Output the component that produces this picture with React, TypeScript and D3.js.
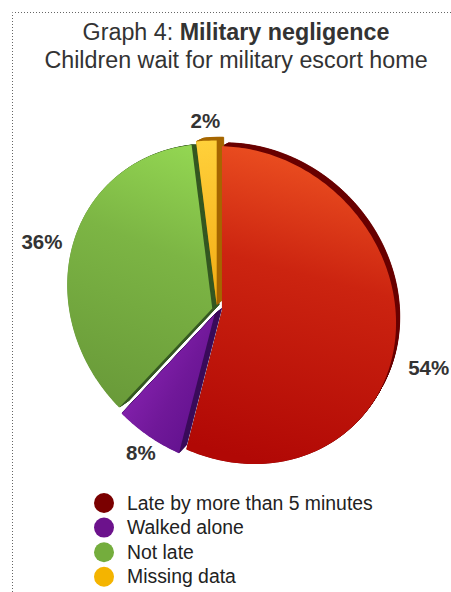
import React from 'react';
import * as d3 from 'd3';

// Survey answers, clockwise from twelve o'clock
const categories = ['Late by more than 5 minutes', 'Walked alone', 'Not late', 'Missing data'];
const shares = [54, 8, 36, 2];
const shareLabels = ['54%', '8%', '36%', '2%'];

const titleLead = 'Graph 4: ';
const titleBold = 'Military negligence';
const subtitle = 'Children wait for military escort home';

const WIDTH = 451;
const HEIGHT = 592;
const FONT = '"Liberation Sans", Arial, Helvetica, sans-serif';

// The pie is a tilted disc: its outline is a rotated ellipse and the
// slice apex sits off the ellipse centre (perspective).
const apex = { x: 217, y: 310 };
const rimCenter = { x: 231.5, y: 304.5 };
const rimA = 168;
const rimB = 150;
const rimTilt = (44 * Math.PI) / 180;

// how far each slice is pulled out, in px
const explode = [5, 5, 5, 5];
// depth of the extruded disc (towards upper right) and back-face shrink
const depth = [
  { x: 6.5, y: -6 },
  { x: 7, y: -6 },
  { x: 7, y: -4 },
  { x: 7, y: -6 },
];
const backScale = [0.984, 0.984, 0.975, 0.984];

const faceStops = [
  ['#ee5322', '#cc2410', '#b10805'],
  ['#8421ad', '#701899', '#5a0d88'],
  ['#93d652', '#7cb544', '#699a39'],
  ['#ffd23c', '#fbc22c', '#f1ab12'],
];
const sideColors = ['#690000', '#3a0b5a', '#355822', '#a66700'];
const legendColors = ['#7a0000', '#6c128c', '#74ad3d', '#f4b400'];

// label nudges from the rim point at each slice's mid angle
const labelNudge = [
  { x: 33, y: 35 },
  { x: -7, y: 17 },
  { x: -27, y: -20 },
  { x: -1, y: -20 },
];

function rimDistance(angle: number): number {
  const dx = Math.sin(angle);
  const dy = -Math.cos(angle);
  const ux = Math.cos(rimTilt);
  const uy = Math.sin(rimTilt);
  const vx = -uy;
  const vy = ux;
  const qx = apex.x - rimCenter.x;
  const qy = apex.y - rimCenter.y;
  const qu = qx * ux + qy * uy;
  const qv = qx * vx + qy * vy;
  const du = dx * ux + dy * uy;
  const dv = dx * vx + dy * vy;
  const A2 = rimA * rimA;
  const B2 = rimB * rimB;
  const a = (du * du) / A2 + (dv * dv) / B2;
  const b = 2 * ((qu * du) / A2 + (qv * dv) / B2);
  const c = (qu * qu) / A2 + (qv * qv) / B2 - 1;
  return (-b + Math.sqrt(b * b - 4 * a * c)) / (2 * a);
}

function rimPoint(angle: number): [number, number] {
  const t = rimDistance(angle);
  return [apex.x + t * Math.sin(angle), apex.y - t * Math.cos(angle)];
}

const pie = d3
  .pie<number>()
  .sort(null)
  .value((d) => d);

const outline = d3
  .line<[number, number]>()
  .x((d) => d[0])
  .y((d) => d[1])
  .curve(d3.curveLinearClosed);

export default function App() {
  const arcs = pie(shares);

  const slices = arcs.map((a, i) => {
    const steps = Math.max(4, Math.ceil(((a.endAngle - a.startAngle) * 180) / Math.PI));
    const pts: [number, number][] = [[apex.x, apex.y]];
    for (let k = 0; k <= steps; k++) {
      pts.push(rimPoint(a.startAngle + ((a.endAngle - a.startAngle) * k) / steps));
    }
    const mid = (a.startAngle + a.endAngle) / 2;
    const off = { x: explode[i] * Math.sin(mid), y: -explode[i] * Math.cos(mid) };
    const rim = rimPoint(mid);
    return {
      i,
      d: outline(pts) as string,
      off,
      label: { x: rim[0] + off.x + labelNudge[i].x, y: rim[1] + off.y + labelNudge[i].y },
    };
  });

  const layers = d3.range(14, 0, -1).map((k) => k / 14);

  return (
    <svg
      width={WIDTH}
      height={HEIGHT}
      viewBox={`0 0 ${WIDTH} ${HEIGHT}`}
      style={{ position: 'absolute', left: 0, top: 0, background: '#fff' }}
    >
      <defs>
        {faceStops.map((stops, i) => {
          const ends = [
            { x1: 330, y1: 150, x2: 250, y2: 460 },
            { x1: 120, y1: 400, x2: 215, y2: 455 },
            { x1: 200, y1: 150, x2: 100, y2: 400 },
            { x1: 200, y1: 140, x2: 215, y2: 310 },
          ][i];
          return (
            <linearGradient key={i} id={`face${i}`} gradientUnits="userSpaceOnUse" {...ends}>
              <stop offset="0" stopColor={stops[0]} />
              <stop offset="0.4" stopColor={stops[1]} />
              <stop offset="1" stopColor={stops[2]} />
            </linearGradient>
          );
        })}
      </defs>

      {/* dotted frame */}
      <path
        d={`M12.5,${HEIGHT} V12.5 H${WIDTH}`}
        fill="none"
        stroke="#666"
        strokeWidth={1}
        strokeDasharray="1 2"
      />

      <text x={236} y={40} textAnchor="middle" fontFamily={FONT} fontSize={23.3} fill="#333">
        {titleLead}
        <tspan fontWeight="bold">{titleBold}</tspan>
      </text>
      <text x={236} y={68} textAnchor="middle" fontFamily={FONT} fontSize={23.3} fill="#333">
        {subtitle}
      </text>

      {/* extruded sides */}
      {slices.map((s) => (
        <g key={`side${s.i}`}>
          {layers.map((t) => {
            const k = 1 - (1 - backScale[s.i]) * t;
            const tx = s.off.x + depth[s.i].x * t;
            const ty = s.off.y + depth[s.i].y * t;
            return (
              <path
                key={t}
                d={s.d}
                fill={sideColors[s.i]}
                stroke={sideColors[s.i]}
                strokeWidth={0.8}
                transform={`translate(${tx},${ty}) translate(${apex.x},${apex.y}) scale(${k}) translate(${-apex.x},${-apex.y})`}
              />
            );
          })}
        </g>
      ))}

      {/* front faces */}
      {slices.map((s) => (
        <path
          key={`face${s.i}`}
          d={s.d}
          fill={`url(#face${s.i})`}
          transform={`translate(${s.off.x},${s.off.y})`}
        />
      ))}

      {slices.map((s) => (
        <text
          key={`lab${s.i}`}
          x={s.label.x}
          y={s.label.y + 7}
          textAnchor="middle"
          fontFamily={FONT}
          fontWeight="bold"
          fontSize={20.5}
          fill="#333"
        >
          {shareLabels[s.i]}
        </text>
      ))}

      {categories.map((c, i) => (
        <g key={c} transform={`translate(0,${503 + i * 24.6})`}>
          <circle cx={104} cy={0} r={10} fill={legendColors[i]} />
          <text x={127} y={6.5} fontFamily={FONT} fontSize={19.4} fill="#222">
            {c}
          </text>
        </g>
      ))}
    </svg>
  );
}
